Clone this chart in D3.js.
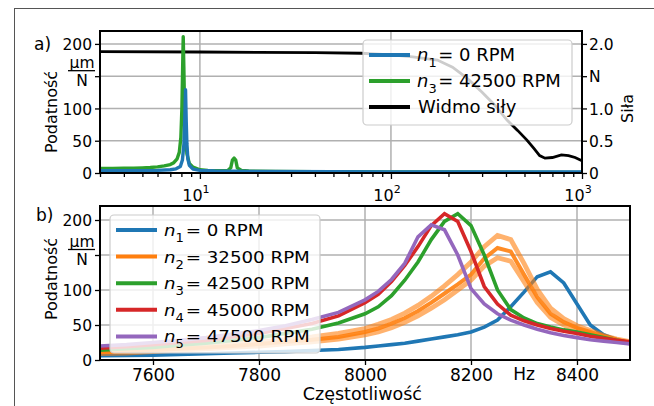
<!DOCTYPE html>
<html>
<head>
<meta charset="utf-8">
<script src="https://cdn.jsdelivr.net/npm/d3@7"></script>
<style>
  body { margin: 0; background: #fff; }
  svg text { font-family: "DejaVu Sans", sans-serif; }
</style>
</head>
<body>
<div id="chart"></div>
<script>
// Chart size
const width = 654;
const height = 406;

// Panel a) - compliance over frequency (log axis) and force spectrum
const aFreqN1 = [3, 4, 5, 6, 7, 7.5, 7.9, 8.1, 8.25, 8.33, 8.41, 8.48, 8.55, 8.65, 8.8, 9.2, 10, 12, 20, 50, 100, 1000];
const aCompN1 = [3.5, 3.5, 3.7, 4, 5, 6.5, 10, 20, 45, 80, 129, 80, 45, 22, 12, 6, 4, 3, 2.5, 2, 1.8, 1.5];

const aFreqN3 = [3, 3.5, 4, 4.5, 5, 5.5, 6, 6.5, 7, 7.3, 7.6, 7.8, 7.95, 8.05, 8.12, 8.18, 8.24, 8.3, 8.4, 8.55, 8.8, 9.2, 10, 11, 12, 13, 14, 14.5, 14.8, 15.1, 15.4, 15.7, 16.5, 18, 25, 40, 60, 100, 200, 500, 1000];
const aCompN3 = [7, 7, 7.5, 7.5, 8, 8.5, 9.5, 11, 13, 16, 22, 32, 55, 100, 160, 211, 165, 110, 60, 30, 15, 9, 5, 4, 3.5, 3.5, 4, 8, 20, 23, 20, 8, 4, 3, 2.5, 2, 2, 1.5, 1.5, 1.2, 1];

const forceFreq = [3, 10, 20, 40, 70, 100, 130, 175, 210, 250, 300, 350, 405, 460, 515, 560, 600, 640, 700, 780, 850, 920, 1000];
const forceVals = [1.88, 1.875, 1.87, 1.865, 1.855, 1.83, 1.8, 1.75, 1.64, 1.47, 1.25, 1.05, 0.82, 0.66, 0.51, 0.38, 0.27, 0.23, 0.24, 0.28, 0.27, 0.24, 0.19];

const aLeftTicks = [0, 50, 100, 150, 200];
const aRightTicks = [0, 0.5, 1.0, 1.5, 2.0];

// Panel b) - zoom around the main resonance
const bFreq = [7500, 7550, 7600, 7650, 7700, 7750, 7800, 7850, 7900, 7950, 8000, 8025, 8050, 8075, 8100, 8125, 8150, 8175, 8200, 8225, 8250, 8275, 8300, 8325, 8350, 8375, 8400, 8425, 8450, 8475, 8500];
const bN1 = [6, 6.5, 7, 8, 9, 10, 11, 12, 13.5, 15, 18, 20, 22, 24, 27, 30, 33, 36, 40, 47, 57, 76, 97, 119, 126, 110, 80, 50, 36, 29, 24];
const bN2 = [11, 12, 14, 16, 18, 20, 23, 26, 29, 33, 40, 45, 52, 60, 70, 82, 95, 108, 122, 145, 160, 155, 122, 90, 66, 54, 46, 40, 34, 29, 25];
const bN2hi = [13, 14, 16, 18, 20, 23, 26, 29, 33, 38, 45, 51, 58, 67, 78, 91, 106, 122, 140, 162, 178, 172, 138, 101, 74, 59, 49, 42, 35, 30, 26];
const bN2lo = [9, 10, 12, 14, 16, 18, 20, 23, 26, 30, 36, 40, 46, 54, 63, 74, 86, 100, 114, 134, 146, 141, 112, 82, 61, 50, 43, 37, 32, 28, 24];
const bN3 = [14, 16, 18, 21, 24, 28, 32, 38, 44, 53, 66, 76, 92, 114, 140, 172, 198, 209, 192, 150, 100, 72, 60, 52, 47, 43, 40, 36, 32, 28, 25];
const bN4 = [17, 19, 22, 25, 28, 33, 38, 45, 52, 63, 82, 94, 112, 135, 162, 192, 209, 198, 155, 105, 80, 64, 56, 50, 45, 41, 38, 34, 31, 28, 26];
const bN5 = [20, 22, 25, 28, 32, 37, 42, 49, 58, 68, 86, 98, 115, 138, 176, 193, 186, 150, 102, 80, 66, 57, 50, 44, 39, 35, 32, 29, 27, 25, 23];

const bXTicks = [7600, 7800, 8000, 8200, 8400];
const bYTicks = [0, 50, 100, 150, 200];

const colors = {n1: "#1f77b4", n2: "#ff7f0e", n3: "#2ca02c", n4: "#d62728", n5: "#9467bd"};

const svg = d3.select("#chart")
  .append("svg")
  .attr("width", width)
  .attr("height", height);

// outer frame of the figure
svg.append("rect")
  .attr("x", 14.5).attr("y", 8.5)
  .attr("width", 700).attr("height", 500)
  .attr("fill", "none")
  .attr("stroke", "#555")
  .attr("stroke-width", 1);

const gridColor = "#b0b0b0";

/*

  Panel a

*/

const pa = {left: 100, right: 582, top: 31, bottom: 173};

const xA = d3.scaleLog().domain([3, 1000]).range([pa.left, pa.right]);
const yA = d3.scaleLinear().domain([0, 220]).range([pa.bottom, pa.top]);
const yF = d3.scaleLinear().domain([0, 2.2]).range([pa.bottom, pa.top]);

svg.append("clipPath").attr("id", "clipA")
  .append("rect")
  .attr("x", pa.left).attr("y", pa.top)
  .attr("width", pa.right - pa.left).attr("height", pa.bottom - pa.top);

// grid
svg.append("g")
  .selectAll("line")
  .data([10, 100])
  .enter().append("line")
  .attr("x1", d => xA(d)).attr("x2", d => xA(d))
  .attr("y1", pa.top).attr("y2", pa.bottom)
  .attr("stroke", gridColor).attr("stroke-width", 1.5);

svg.append("g")
  .selectAll("line")
  .data(aLeftTicks.slice(1))
  .enter().append("line")
  .attr("x1", pa.left).attr("x2", pa.right)
  .attr("y1", d => yA(d)).attr("y2", d => yA(d))
  .attr("stroke", gridColor).attr("stroke-width", 1.5);

const lineA = d3.line().x(d => xA(d[0])).y(d => yA(d[1]));
const lineF = d3.line().x(d => xA(d[0])).y(d => yF(d[1]));

const gA = svg.append("g").attr("clip-path", "url(#clipA)");

gA.append("path")
  .datum(d3.zip(forceFreq, forceVals))
  .attr("d", lineF)
  .attr("fill", "none").attr("stroke", "#000").attr("stroke-width", 2.8);

gA.append("path")
  .datum(d3.zip(aFreqN3, aCompN3))
  .attr("d", lineA)
  .attr("fill", "none").attr("stroke", colors.n3).attr("stroke-width", 3.4)
  .attr("stroke-linejoin", "round");

gA.append("path")
  .datum(d3.zip(aFreqN1, aCompN1))
  .attr("d", lineA)
  .attr("fill", "none").attr("stroke", colors.n1).attr("stroke-width", 3.4)
  .attr("stroke-linejoin", "round");

// axes a
const axA = svg.append("g").attr("transform", `translate(0,${pa.bottom})`)
  .call(d3.axisBottom(xA).tickValues([10, 100, 1000]).tickFormat("").tickSize(6));
axA.select(".domain").remove();

const minorA = [];
[1, 10, 100].forEach(dec => { for (let k = 2; k <= 9; k++) { if (k * dec >= 3) minorA.push(k * dec); } });
svg.append("g").attr("transform", `translate(0,${pa.bottom})`)
  .call(d3.axisBottom(xA).tickValues(minorA).tickFormat("").tickSize(4))
  .select(".domain").remove();

[1, 2, 3].forEach(p => {
  const t = svg.append("text")
    .attr("x", xA(Math.pow(10, p)) - 4).attr("y", 201)
    .attr("text-anchor", "middle").attr("font-size", 16);
  t.append("tspan").text("10");
  t.append("tspan").attr("dy", -8).attr("font-size", 11).text(p);
});

const axAL = svg.append("g").attr("transform", `translate(${pa.left},0)`)
  .call(d3.axisLeft(yA).tickValues(aLeftTicks).tickSize(5).tickPadding(3)
    .tickFormat(d => d === 150 ? "" : d));
axAL.select(".domain").remove();
axAL.selectAll("text").attr("font-size", 15.5).attr("fill", "#000").attr("dy", "0.36em");

const axAR = svg.append("g").attr("transform", `translate(${pa.right},0)`)
  .call(d3.axisRight(yF).tickValues(aRightTicks).tickSize(5).tickPadding(2)
    .tickFormat(d => d === 0 ? "0" : d === 1.5 ? "N" : d.toFixed(1)));
axAR.select(".domain").remove();
axAR.selectAll("text").attr("font-size", 15.5).attr("fill", "#000").attr("dy", "0.36em");

svg.selectAll(".tick line").attr("stroke", "#000").attr("stroke-width", 1.3);

svg.append("rect")
  .attr("x", pa.left).attr("y", pa.top)
  .attr("width", pa.right - pa.left).attr("height", pa.bottom - pa.top)
  .attr("fill", "none").attr("stroke", "#000").attr("stroke-width", 2);

// unit fraction in place of the 150 tick label
function unitFraction(y) {
  svg.append("text").attr("x", 82).attr("y", y - 8)
    .attr("text-anchor", "middle").attr("font-size", 15.5).text("µm");
  svg.append("line").attr("x1", 68).attr("x2", 95).attr("y1", y - 5.5).attr("y2", y - 5.5)
    .attr("stroke", "#000").attr("stroke-width", 1.3);
  svg.append("text").attr("x", 82).attr("y", y + 10)
    .attr("text-anchor", "middle").attr("font-size", 15.5).text("N");
}
unitFraction(yA(150));

svg.append("text")
  .attr("transform", `translate(57,${(pa.top + pa.bottom) / 2 + 10}) rotate(-90)`)
  .attr("text-anchor", "middle").attr("font-size", 16).text("Podatność");

svg.append("text")
  .attr("transform", `translate(633,${yF(1.0)}) rotate(-90)`)
  .attr("text-anchor", "middle").attr("font-size", 16).text("Siła");

svg.append("text").attr("x", 34).attr("y", 50).attr("font-size", 17).text("a)");

// legend box with line samples and labels
function legend(x, y, w, h, items, rowH, fs, sx, eqX) {
  svg.append("rect")
    .attr("x", x).attr("y", y).attr("width", w).attr("height", h)
    .attr("rx", 4)
    .attr("fill", "#fff").attr("fill-opacity", 0.8)
    .attr("stroke", "#ccc").attr("stroke-width", 1.2);
  items.forEach((it, i) => {
    const yy = y + 15 + i * rowH;
    svg.append("line")
      .attr("x1", x + 6).attr("x2", x + 47).attr("y1", yy).attr("y2", yy)
      .attr("stroke", it.color).attr("stroke-width", 4);
    const g = svg.append("g").attr("transform", `translate(${x + 54},${yy + 6}) scale(${sx},1)`);
    if (it.sub) {
      const t = g.append("text").attr("font-size", fs);
      t.append("tspan").attr("font-style", "italic").text("n");
      t.append("tspan").attr("dy", 6).attr("font-size", fs * 0.72).text(it.sub);
      g.append("text").attr("x", eqX).attr("font-size", fs).text(it.label);
    } else {
      g.append("text").attr("font-family", "Lato, sans-serif")
        .attr("font-size", fs).attr("x", 1).text(it.label);
    }
  });
}

legend(363, 40, 209, 85, [
  {color: colors.n1, sub: "1", label: "= 0 RPM"},
  {color: colors.n3, sub: "3", label: "= 42500 RPM"},
  {color: "#000", label: "Widmo siły"}
], 26, 17, 1.06, 20);

/*

  Panel b

*/

const pb = {left: 100, right: 630, top: 206, bottom: 360};

const xB = d3.scaleLinear().domain([7500, 8500]).range([pb.left, pb.right]);
const yB = d3.scaleLinear().domain([0, 220]).range([pb.bottom, pb.top]);

svg.append("clipPath").attr("id", "clipB")
  .append("rect")
  .attr("x", pb.left).attr("y", pb.top)
  .attr("width", pb.right - pb.left).attr("height", pb.bottom - pb.top);

svg.append("g")
  .selectAll("line")
  .data(bXTicks)
  .enter().append("line")
  .attr("x1", d => xB(d)).attr("x2", d => xB(d))
  .attr("y1", pb.top).attr("y2", pb.bottom)
  .attr("stroke", gridColor).attr("stroke-width", 1.5);

svg.append("g")
  .selectAll("line")
  .data(bYTicks.slice(1))
  .enter().append("line")
  .attr("x1", pb.left).attr("x2", pb.right)
  .attr("y1", d => yB(d)).attr("y2", d => yB(d))
  .attr("stroke", gridColor).attr("stroke-width", 1.5);

const lineB = d3.line().x(d => xB(d[0])).y(d => yB(d[1]));
const gB = svg.append("g").attr("clip-path", "url(#clipB)");

const bSeries = [
  {vals: bN1, color: colors.n1, w: 3.6, op: 1},
  {vals: bN2hi, color: colors.n2, w: 4.8, op: 0.6},
  {vals: bN2lo, color: colors.n2, w: 4.8, op: 0.6},
  {vals: bN2, color: colors.n2, w: 4, op: 0.9},
  {vals: bN3, color: colors.n3, w: 3.6, op: 1},
  {vals: bN4, color: colors.n4, w: 3.6, op: 1},
  {vals: bN5, color: colors.n5, w: 3.6, op: 1}
];

gB.selectAll(".series")
  .data(bSeries)
  .enter().append("path")
  .attr("class", "series")
  .attr("d", s => lineB(d3.zip(bFreq, s.vals)))
  .attr("fill", "none")
  .attr("stroke", s => s.color)
  .attr("stroke-opacity", s => s.op)
  .attr("stroke-width", s => s.w)
  .attr("stroke-linejoin", "miter");

const axB = svg.append("g").attr("transform", `translate(0,${pb.bottom})`)
  .call(d3.axisBottom(xB).tickValues(bXTicks).tickSize(5).tickPadding(2).tickFormat(d3.format("d")));
axB.select(".domain").remove();
axB.selectAll("text").attr("font-size", 17).attr("font-family", "Lato, sans-serif")
  .attr("fill", "#000").attr("dy", "0.8em");

const axBL = svg.append("g").attr("transform", `translate(${pb.left},0)`)
  .call(d3.axisLeft(yB).tickValues(bYTicks).tickSize(5).tickPadding(3)
    .tickFormat(d => d === 150 ? "" : d));
axBL.select(".domain").remove();
axBL.selectAll("text").attr("font-size", 15.5).attr("fill", "#000").attr("dy", "0.36em");

svg.selectAll(".tick line").attr("stroke", "#000").attr("stroke-width", 1.3);

svg.append("rect")
  .attr("x", pb.left).attr("y", pb.top)
  .attr("width", pb.right - pb.left).attr("height", pb.bottom - pb.top)
  .attr("fill", "none").attr("stroke", "#000").attr("stroke-width", 2);

unitFraction(yB(150));

svg.append("text").attr("x", xB(8300)).attr("y", 380)
  .attr("text-anchor", "middle").attr("font-size", 17)
  .attr("font-family", "Lato, sans-serif").text("Hz");

svg.append("text").attr("x", xB(7995)).attr("y", 400)
  .attr("text-anchor", "middle").attr("font-size", 17.5)
  .attr("font-family", "Lato, sans-serif").text("Częstotliwość");

svg.append("text")
  .attr("transform", `translate(57,${(pb.top + pb.bottom) / 2 - 4}) rotate(-90)`)
  .attr("text-anchor", "middle").attr("font-size", 16).text("Podatność");

svg.append("text").attr("x", 36).attr("y", 221).attr("font-size", 17).text("b)");

legend(110, 215, 210, 138, [
  {color: colors.n1, sub: "1", label: "= 0 RPM"},
  {color: colors.n2, sub: "2", label: "= 32500 RPM"},
  {color: colors.n3, sub: "3", label: "= 42500 RPM"},
  {color: colors.n4, sub: "4", label: "= 45000 RPM"},
  {color: colors.n5, sub: "5", label: "= 47500 RPM"}
], 26.6, 16, 1.14, 19);
</script>
</body>
</html>
